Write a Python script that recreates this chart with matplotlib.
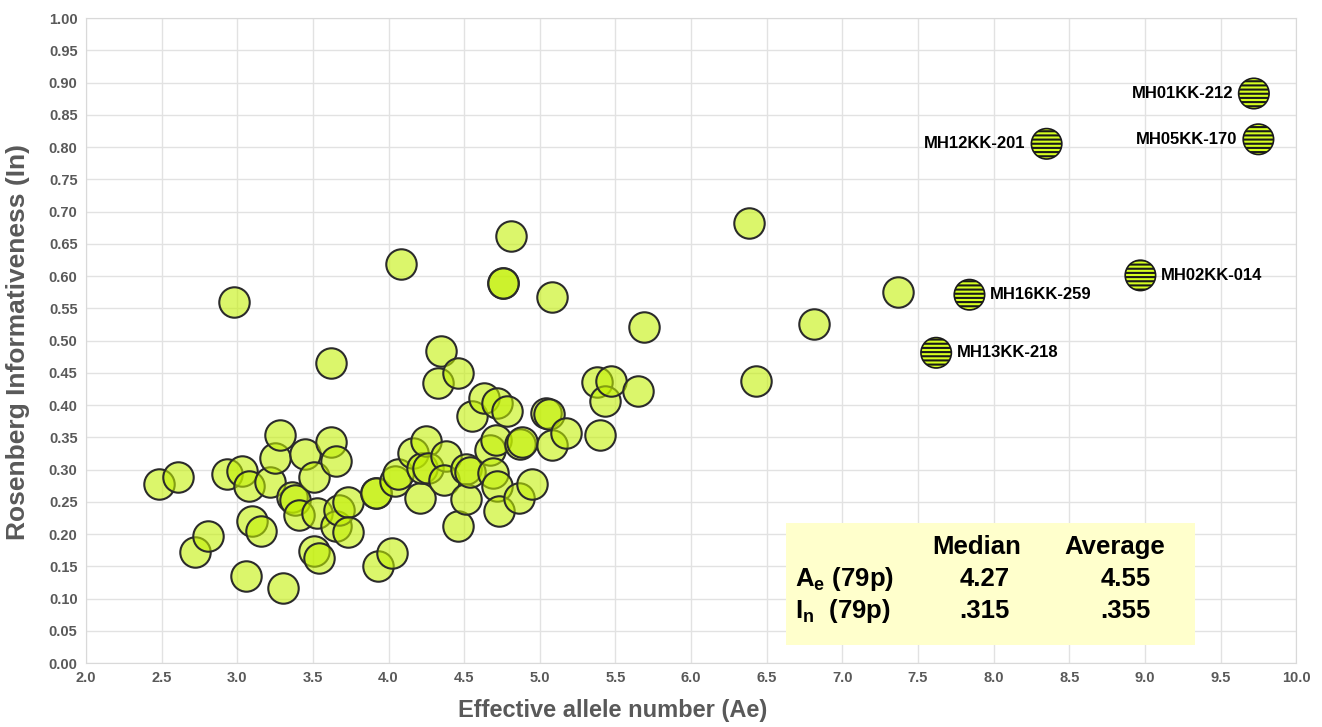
import numpy as np
import matplotlib
matplotlib.use('Agg')
import matplotlib.pyplot as plt
from matplotlib.patches import Rectangle

plt.rcParams['font.family'] = ['Liberation Sans', 'DejaVu Sans']
plt.rcParams['mathtext.fontset'] = 'custom'
plt.rcParams['mathtext.rm'] = 'Liberation Sans:bold'
plt.rcParams['mathtext.bf'] = 'Liberation Sans:bold'
plt.rcParams['hatch.linewidth'] = 1.5

# effective allele number vs. informativeness, one point per marker
ae = [2.48, 2.61, 2.72, 2.81, 2.98, 2.93, 3.03, 3.06, 3.08, 3.10,
      3.16, 3.22, 3.25, 3.28, 3.30, 3.36, 3.38, 3.41, 3.45, 3.51,
      3.51, 3.54, 3.53, 3.62, 3.62, 3.65, 3.65, 3.67, 3.73, 3.73,
      3.92, 3.92, 3.93, 4.02, 4.04, 4.06, 4.08, 4.16, 4.21, 4.22,
      4.25, 4.26, 4.33, 4.35, 4.38, 4.37, 4.46, 4.46, 4.51, 4.51,
      4.54, 4.55, 4.63, 4.67, 4.69, 4.71, 4.72, 4.72, 4.73, 4.76,
      4.76, 4.78, 4.81, 4.86, 4.87, 4.88, 4.95, 5.04, 5.06, 5.08,
      5.08, 5.17, 5.38, 5.43, 5.40, 5.47, 5.65, 5.69, 6.38, 6.43,
      6.81, 7.37]
inf = [0.278, 0.288, 0.172, 0.197, 0.560, 0.293, 0.298, 0.135, 0.274, 0.220,
       0.205, 0.281, 0.318, 0.354, 0.116, 0.257, 0.253, 0.229, 0.324, 0.288,
       0.174, 0.163, 0.233, 0.465, 0.343, 0.313, 0.212, 0.237, 0.250, 0.203,
       0.264, 0.264, 0.150, 0.171, 0.282, 0.293, 0.619, 0.326, 0.256, 0.302,
       0.344, 0.302, 0.434, 0.483, 0.321, 0.283, 0.450, 0.213, 0.301, 0.254,
       0.296, 0.383, 0.411, 0.330, 0.295, 0.346, 0.403, 0.274, 0.235, 0.589,
       0.589, 0.391, 0.662, 0.256, 0.340, 0.343, 0.278, 0.388, 0.386, 0.567,
       0.338, 0.357, 0.436, 0.407, 0.353, 0.438, 0.422, 0.521, 0.682, 0.438,
       0.526, 0.576]

# highlighted markers
top_names = ['MH01KK-212', 'MH05KK-170', 'MH12KK-201',
             'MH02KK-014', 'MH16KK-259', 'MH13KK-218']
top_ae = [9.72, 9.75, 8.35, 8.97, 7.84, 7.62]
top_inf = [0.883, 0.812, 0.805, 0.601, 0.571, 0.481]
label_side = ['left', 'left', 'left', 'right', 'right', 'right']

# summary table
stat_cols = ['Median', 'Average']
stat_rows = [r'A$_\mathrm{e}$ (79p)', r'I$_\mathrm{n}$  (79p)']
stat_vals = [['4.27', '4.55'], ['.315', '.355']]

gray = '#595959'

fig = plt.figure(figsize=(13.22, 7.27), dpi=100)
ax = fig.add_axes([0.065, 0.088, 0.9155, 0.8872])

ax.set_xlim(2.0, 10.0)
ax.set_ylim(0.0, 1.0)
ax.set_xticks(np.arange(2.0, 10.01, 0.5))
ax.set_yticks(np.arange(0.0, 1.001, 0.05))
ax.set_xticklabels(['%.1f' % v for v in np.arange(2.0, 10.01, 0.5)])
ax.set_yticklabels(['%.2f' % v for v in np.arange(0.0, 1.001, 0.05)])
ax.grid(True, color='#e2e2e2', linewidth=1.0)
ax.set_axisbelow(True)
for s in ax.spines.values():
    s.set_color('#d9d9d9')
ax.tick_params(length=0, colors=gray, labelsize=10.5, pad=6)
for lab in ax.get_xticklabels() + ax.get_yticklabels():
    lab.set_fontweight('bold')

ax.set_xlabel('Effective allele number (Ae)', fontsize=17, fontweight='bold',
              color=gray)
ax.xaxis.set_label_coords(0.435, -0.056)
ax.set_ylabel('Rosenberg Informativeness (In)', fontsize=19, fontweight='bold',
              color=gray)
ax.yaxis.set_label_coords(-0.046, 0.498)

ax.scatter(ae, inf, s=480, facecolor=(0.76, 0.94, 0.0, 0.58),
           edgecolor='#2b2b2b', linewidth=1.5, zorder=3)

ax.scatter(top_ae, top_inf, s=480, facecolor='#d6ff1f', edgecolor='#1a1a1a',
           linewidth=1.2, hatch='----', zorder=4)
for name, x, y, side in zip(top_names, top_ae, top_inf, label_side):
    dx = -15 if side == 'left' else 15
    ax.annotate(name, (x, y), xytext=(dx, 0), textcoords='offset points',
                ha='right' if side == 'left' else 'left', va='center',
                fontsize=12, fontweight='bold', color='black', zorder=5)

# stats box
ax.add_patch(Rectangle((6.63, 0.028), 2.70, 0.189, facecolor='#ffffcc',
                       edgecolor='none', zorder=2))
row_y = [0.130, 0.080]
for cx, name in zip([7.89, 8.80], stat_cols):
    ax.text(cx, 0.180, name, ha='center', va='center', fontsize=18.5,
            fontweight='bold', zorder=5)
for ry, rname, vals in zip(row_y, stat_rows, stat_vals):
    ax.text(6.69, ry, rname, ha='left', va='center', fontsize=18.5,
            fontweight='bold', zorder=5)
    ax.text(7.94, ry, vals[0], ha='center', va='center', fontsize=18.5,
            fontweight='bold', zorder=5)
    ax.text(8.87, ry, vals[1], ha='center', va='center', fontsize=18.5,
            fontweight='bold', zorder=5)

fig.savefig('out.png', dpi=100)
